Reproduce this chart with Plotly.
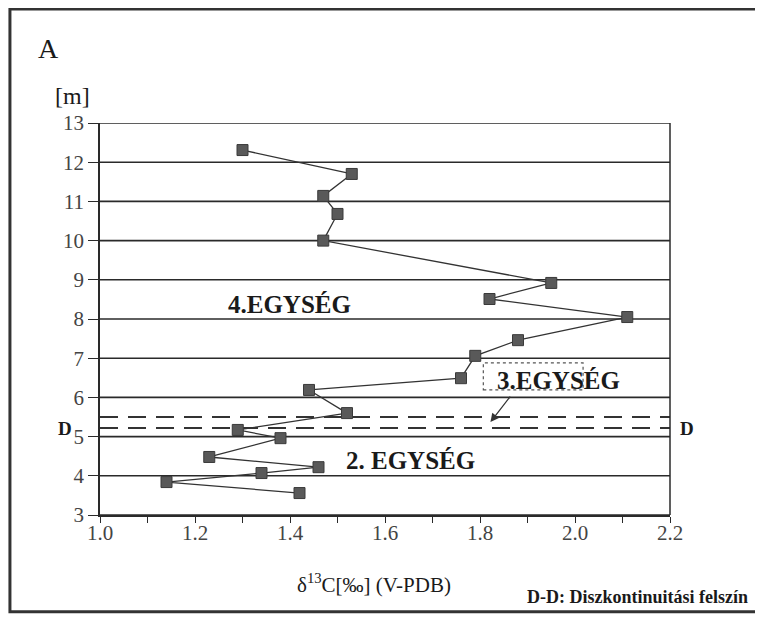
import plotly.graph_objects as go

# Data: δ13C value vs. depth (m)
d13c = [1.30, 1.53, 1.47, 1.50, 1.47, 1.95, 1.82, 2.11, 1.88, 1.79, 1.76,
        1.44, 1.52, 1.29, 1.38, 1.23, 1.46, 1.34, 1.14, 1.42]
depth = [12.31, 11.70, 11.14, 10.68, 10.00, 8.92, 8.51, 8.05, 7.46, 7.06, 6.49,
         6.19, 5.60, 5.17, 4.96, 4.48, 4.22, 4.07, 3.84, 3.56]

x_ticks = [1.0, 1.2, 1.4, 1.6, 1.8, 2.0, 2.2]
y_ticks = list(range(3, 14))
discontinuity_levels = [5.5, 5.22]

SERIF = "Liberation Serif"

fig = go.Figure()

# Horizontal gridlines at each metre
for yv in y_ticks:
    fig.add_shape(type="line", xref="paper", yref="y", x0=0, x1=1, y0=yv, y1=yv,
                  line=dict(color="#2a2a2a", width=1.6), layer="below")

# Dashed discontinuity lines
for yv in discontinuity_levels:
    fig.add_shape(type="line", xref="paper", yref="y", x0=0, x1=1, y0=yv, y1=yv,
                  line=dict(color="#333333", width=2.2, dash="18px,10px"), layer="below")

fig.add_trace(go.Scatter(
    x=d13c, y=depth, mode="lines+markers",
    line=dict(color="#333333", width=1.3),
    marker=dict(symbol="square", size=11, color="#595959",
                line=dict(color="#3a3a3a", width=1)),
    showlegend=False, hoverinfo="skip"))

# Plot right border
fig.add_shape(type="line", xref="paper", yref="paper", x0=1, x1=1, y0=0, y1=1,
              line=dict(color="#2a2a2a", width=1.5))

# Figure frame
fig.add_shape(type="rect", xref="paper", yref="paper",
              x0=-0.158, x1=1.154, y0=-0.247, y1=1.291,
              line=dict(color="#333333", width=3))

# 3.EGYSÉG dotted box
fig.add_shape(type="rect", xref="x", yref="y", x0=1.807, x1=2.017, y0=6.19, y1=6.88,
              line=dict(color="#555555", width=1.2, dash="dot"))

ann = [
    dict(text="<b>4.EGYSÉG</b>", x=1.398, y=8.36, xref="x", yref="y", size=25),
    dict(text="<b>3.EGYSÉG</b>", x=1.966, y=6.44, xref="x", yref="y", size=25),
    dict(text="<b>2. EGYSÉG</b>", x=1.654, y=4.40, xref="x", yref="y", size=25),
    dict(text="<b>D</b>", x=-0.061, y=5.2, xref="paper", yref="y", size=19),
    dict(text="<b>D</b>", x=1.03, y=5.2, xref="paper", yref="y", size=19),
    dict(text="[m]", x=-0.049, y=1.068, xref="paper", yref="paper", size=24),
    dict(text="A", x=-0.09, y=1.19, xref="paper", yref="paper", size=28),
    dict(text="<b>D-D: Diszkontinuitási felszín</b>", x=1.14, y=-0.209,
         xref="paper", yref="paper", size=18, xanchor="right"),
    dict(text="δ<sup>13</sup>C[‰] (V-PDB)", x=0.48, y=-0.175,
         xref="paper", yref="paper", size=21),
]
for a in ann:
    fig.add_annotation(text=a["text"], x=a["x"], y=a["y"], xref=a["xref"], yref=a["yref"],
                       showarrow=False, xanchor=a.get("xanchor", "center"), yanchor="middle",
                       font=dict(family=SERIF, size=a["size"], color="#1a1a1a"))

# Arrow from the 3.EGYSÉG box to the discontinuity zone
fig.add_annotation(x=1.822, y=5.37, ax=1.866, ay=6.06, xref="x", yref="y",
                   axref="x", ayref="y", text="", showarrow=True,
                   arrowhead=2, arrowsize=1.3, arrowwidth=1.3, arrowcolor="#333333")

fig.update_xaxes(range=[1.0, 2.2], tickvals=x_ticks, ticktext=[f"{v:.1f}" for v in x_ticks],
                 showgrid=False, zeroline=False, showline=True, linecolor="#2a2a2a", linewidth=1.5,
                 ticks="outside", ticklen=6, tickcolor="#2a2a2a", ticklabelstandoff=-8,
                 minor=dict(ticks="outside", ticklen=6, dtick=0.1, tickcolor="#2a2a2a"),
                 tickfont=dict(family=SERIF, size=21, color="#444444"))
fig.update_yaxes(range=[3, 13], tickvals=y_ticks,
                 showgrid=False, zeroline=False, showline=True, linecolor="#2a2a2a", linewidth=1.5,
                 ticks="outside", ticklen=10, tickcolor="#2a2a2a",
                 tickfont=dict(family=SERIF, size=21, color="#444444"))

# The page adds an 8px body margin, so the figure is sized to fit the window
fig.update_layout(width=755, height=610,
                  margin=dict(l=92, r=93, t=115, b=103),
                  plot_bgcolor="white", paper_bgcolor="white")

fig.write_html("out.html")
